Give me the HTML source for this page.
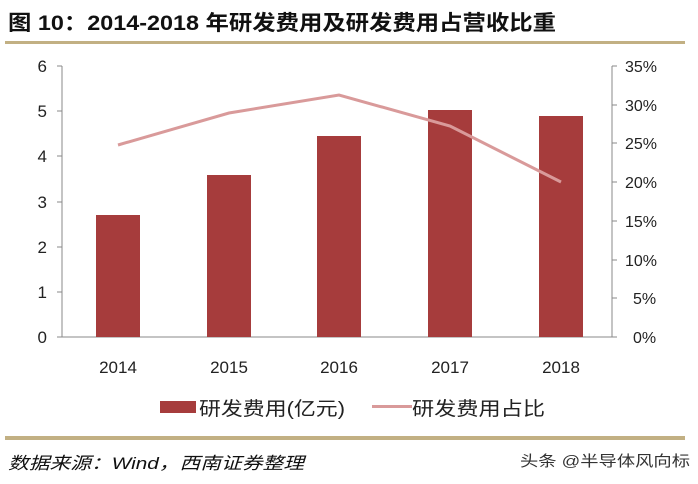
<!DOCTYPE html><html><head><meta charset="utf-8"><style>
body{margin:0;width:698px;height:479px;background:#fff;overflow:hidden;font-family:"Liberation Sans","Noto Sans CJK SC",sans-serif}
</style></head><body>
<svg width="698" height="479" xmlns="http://www.w3.org/2000/svg" font-family="Liberation Sans, Noto Sans CJK SC, sans-serif">
<text x="8" y="30" font-size="21" font-weight="bold" fill="#111" textLength="548" lengthAdjust="spacingAndGlyphs">图 10：2014-2018 年研发费用及研发费用占营收比重</text>
<rect x="5" y="41" width="680" height="3" fill="#c2b083"/>
<g stroke="#888" stroke-width="1" fill="none">
<path d="M62 66V337H612V66"/>
<path d="M57 66H62M57 111H62M57 156H62M57 202H62M57 247H62M57 292H62M57 337H62"/>
<path d="M612 66H617M612 105H617M612 143H617M612 182H617M612 221H617M612 260H617M612 298H617M612 337H617"/>
</g>
<g font-size="17" fill="#222" text-anchor="end">
<text x="47" y="72">6</text><text x="47" y="117">5</text><text x="47" y="162">4</text><text x="47" y="208">3</text><text x="47" y="253">2</text><text x="47" y="298">1</text><text x="47" y="343">0</text>
</g>
<g font-size="16" fill="#222">
<text x="625" y="72">35%</text><text x="625" y="111">30%</text><text x="625" y="149">25%</text><text x="625" y="188">20%</text><text x="625" y="227">15%</text><text x="625" y="266">10%</text><text x="633" y="304">5%</text><text x="633" y="343">0%</text>
</g>
<g fill="#a63c3c">
<rect x="96" y="215" width="44" height="122"/>
<rect x="207" y="175" width="44" height="162"/>
<rect x="317" y="136" width="44" height="201"/>
<rect x="428" y="110" width="44" height="227"/>
<rect x="539" y="116" width="44" height="221"/>
</g>
<polyline points="118,145 229,113 339,95 450,126 561,182" fill="none" stroke="#d99a9a" stroke-width="3"/>
<g font-size="17" fill="#222" text-anchor="middle">
<text x="118" y="373">2014</text><text x="229" y="373">2015</text><text x="339" y="373">2016</text><text x="450" y="373">2017</text><text x="561" y="373">2018</text>
</g>
<rect x="160" y="401" width="36" height="12" fill="#a63c3c"/>
<text x="199" y="415" font-size="19" fill="#222" textLength="146" lengthAdjust="spacingAndGlyphs">研发费用(亿元)</text>
<rect x="372" y="405" width="40" height="3" fill="#d99a9a"/>
<text x="412" y="415" font-size="19" fill="#222" textLength="133" lengthAdjust="spacingAndGlyphs">研发费用占比</text>
<rect x="5" y="436" width="680" height="4" fill="#c2b083"/>
<text x="8" y="469" font-size="17" font-style="italic" fill="#111" textLength="296" lengthAdjust="spacingAndGlyphs">数据来源：Wind，西南证券整理</text>
<text x="520" y="466" font-size="15" fill="#333" textLength="170" lengthAdjust="spacingAndGlyphs">头条 @半导体风向标</text>
</svg>
</body></html>
